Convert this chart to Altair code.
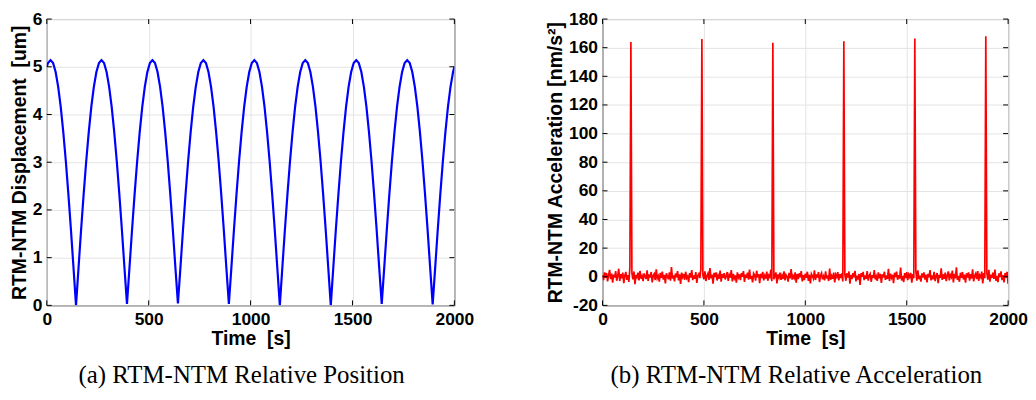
import altair as alt
import pandas as pd

# ---------------- data ----------------
# (a) RTM-NTM relative displacement [um] vs time [s]
disp_t = [
    0, 6, 18.5, 31, 43.5, 56, 68.5, 81, 93.5, 106, 118.5, 131, 143.5,
    156, 168.5, 181, 193.5, 206, 218.5, 231, 243.5, 256, 268.5, 281, 293.5, 306, 318.5, 331, 343.5, 356, 368.5, 381, 393.5,
    406, 418.5, 431, 443.5, 456, 468.5, 481, 493.5, 506, 518.5, 531, 543.5, 556, 568.5, 581, 593.5, 606, 618.5, 631, 643.5,
    656, 668.5, 681, 693.5, 706, 718.5, 731, 743.5, 756, 768.5, 781, 793.5, 806, 818.5, 831, 843.5, 856, 868.5, 881, 893.5,
    906, 918.5, 931, 943.5, 956, 968.5, 981, 993.5, 1006, 1018.5, 1031, 1043.5, 1056, 1068.5, 1081, 1093.5, 1106, 1118.5, 1131, 1143.5,
    1156, 1168.5, 1181, 1193.5, 1206, 1218.5, 1231, 1243.5, 1256, 1268.5, 1281, 1293.5, 1306, 1318.5, 1331, 1343.5, 1356, 1368.5, 1381, 1393.5,
    1406, 1418.5, 1431, 1443.5, 1456, 1468.5, 1481, 1493.5, 1506, 1518.5, 1531, 1543.5, 1556, 1568.5, 1581, 1593.5, 1606, 1618.5, 1631, 1643.5,
    1656, 1668.5, 1681, 1693.5, 1706, 1718.5, 1731, 1743.5, 1756, 1768.5, 1781, 1793.5, 1806, 1818.5, 1831, 1843.5, 1856, 1868.5, 1881, 1893.5,
    1906, 1918.5, 1931, 1943.5, 1956, 1968.5, 1981, 1993.5, 2000,
]
disp_v = [
    5.00, 5.08, 5.14, 5.08, 4.89, 4.58, 4.16, 3.63, 3.02, 2.33, 1.59, 0.80, 0.00,
    0.80, 1.59, 2.33, 3.02, 3.63, 4.16, 4.58, 4.89, 5.08, 5.14, 5.08, 4.89, 4.58, 4.16, 3.63, 3.02, 2.33, 1.59, 0.80, 0.03,
    0.80, 1.59, 2.33, 3.02, 3.63, 4.16, 4.58, 4.89, 5.08, 5.14, 5.08, 4.89, 4.58, 4.16, 3.63, 3.02, 2.33, 1.59, 0.80, 0.04,
    0.80, 1.59, 2.33, 3.02, 3.63, 4.16, 4.58, 4.89, 5.08, 5.14, 5.08, 4.89, 4.58, 4.16, 3.63, 3.02, 2.33, 1.59, 0.80, 0.03,
    0.80, 1.59, 2.33, 3.02, 3.63, 4.16, 4.58, 4.89, 5.08, 5.14, 5.08, 4.89, 4.58, 4.16, 3.63, 3.02, 2.33, 1.59, 0.80, 0.00,
    0.80, 1.59, 2.33, 3.02, 3.63, 4.16, 4.58, 4.89, 5.08, 5.14, 5.08, 4.89, 4.58, 4.16, 3.63, 3.02, 2.33, 1.59, 0.80, 0.00,
    0.80, 1.59, 2.33, 3.02, 3.63, 4.16, 4.58, 4.89, 5.08, 5.14, 5.08, 4.89, 4.58, 4.16, 3.63, 3.02, 2.33, 1.59, 0.80, 0.03,
    0.80, 1.59, 2.33, 3.02, 3.63, 4.16, 4.58, 4.89, 5.08, 5.14, 5.08, 4.89, 4.58, 4.16, 3.63, 3.02, 2.33, 1.59, 0.80, 0.02,
    0.80, 1.59, 2.33, 3.02, 3.63, 4.16, 4.58, 4.89, 5.00,
]

# (b) RTM-NTM relative acceleration [nm/s^2]: noise sampled every 5 s (0..2000 s)
acc_noise = [
    1.2, -2.4, 3.1, -0.8, 2.6, -3.3, 0.9, 4.8, -1.7, 2.2, -4.1, 1.5, -0.6, 3.9, -2.8, 0.4, 5.6, -3.0, 1.8, -1.1,
    2.9, -4.5, 0.7, 3.4, -2.2, 1.1, -3.6, 6.3, -0.9, 2.5, -1.9, 3.7, -5.2, 1.4, -0.3, 2.8, -2.6, 4.1, -1.4, 0.6,
    -3.1, 2.3, 0.2, -1.6, 4.4, -2.9, 1.7, -0.5, 3.3, -4.0, 0.8, 2.1, -2.3, 5.1, -1.2, 0.5, -3.4, 2.7, -0.7, 3.6,
    -2.0, 1.3, -4.6, 2.4, 0.1, -1.8, 3.0, -2.7, 6.8, -1.3, 0.9, -3.2, 2.2, -0.4, 4.0, -2.5, 1.6, -5.0, 2.9, -0.2,
    1.9, -2.1, 3.5, -1.0, 0.3, -3.8, 2.6, -0.6, 4.6, -2.4, 1.0, -1.5, 3.2, -4.3, 0.7, 2.0, -0.9, 5.4, -2.8, 1.2,
    -1.7, 3.8, -3.0, 0.6, 2.3, -2.2, 6.1, -1.1, 1.5, -4.8, 2.7, -0.3, 3.1, -2.6, 0.8, -1.4, 4.3, -3.5, 1.9, -0.8,
    2.5, -1.9, 0.4, 3.3, -2.9, 1.2, -0.7, 4.7, -3.3, 2.0, -1.2, 0.9, -4.2, 3.0, -0.5, 1.7, -2.3, 2.6, -0.1, 3.9,
    -3.6, 1.4, -0.8, 2.9, -2.0, 5.0, -1.6, 0.6, -3.9, 2.3, 1.1, -2.7, 4.2, -0.4, 1.8, -4.4, 2.1, -1.0, 3.4, -2.5,
    0.8, -1.3, 3.6, -2.8, 1.0, -0.2, 4.9, -3.1, 2.4, -1.8, 0.5, 3.0, -4.7, 1.6, -0.6, 2.8, -2.2, 0.9, -1.5, 3.7,
    -2.6, 1.3, 0.2, -3.4, 2.7, -1.1, 5.3, -2.0, 0.7, -0.9, 3.1, -4.1, 1.9, -1.6, 2.4, -0.3, 4.0, -3.2, 1.1, -2.4,
    2.2, -0.7, 3.5, -2.9, 1.4, -4.6, 2.0, 0.4, -1.3, 4.5, -2.3, 1.7, -0.5, 3.3, -3.7, 0.9, 2.6, -1.8, 0.3, -2.5,
    3.8, -1.2, 1.0, -3.0, 5.7, -2.1, 0.6, -1.4, 2.9, -4.0, 1.5, -0.2, 3.2, -2.6, 1.8, -0.9, 2.3, -3.3, 0.5, 1.6,
    -2.8, 2.4, -0.6, 3.7, -4.9, 1.3, -1.7, 2.6, -0.4, 4.1, -3.2, 0.8, -2.0, 1.9, -5.8, 2.5, -0.1, 3.4, -2.4, 1.0,
    -1.5, 3.9, -2.7, 0.7, 2.1, -3.6, 1.2, -0.8, 4.6, -1.9, 0.3, -2.9, 3.1, -1.1, 2.0, -4.3, 1.7, -0.5, 3.5, -2.2,
    0.9, -1.6, 5.5, -3.0, 2.2, -0.7, 1.4, -4.5, 2.8, -0.3, 3.6, -2.1, 1.1, -1.3, 6.4, -2.6, 0.6, -3.8, 2.5, -0.9,
    3.2, -2.4, 1.6, -0.2, 2.7, -4.2, 1.8, -1.0, 0.4, 3.9, -2.8, 4.4, -1.7, 0.8, -3.4, 2.3, -0.6, 3.0, -2.0, 1.5,
    -3.9, 2.1, -0.4, 4.7, -2.5, 1.0, -1.8, 3.4, -3.1, 0.5, 2.6, -4.4, 1.3, -0.9, 5.9, -2.2, 1.7, -1.4, 2.9, -3.0,
    0.8, 3.7, -2.6, 1.2, -0.3, 4.3, -4.0, 2.0, -1.1, 6.6, -2.3, 0.6, -3.5, 2.8, -0.7, 3.3, -1.9, 1.5, -4.1, 2.4,
    -0.5, 3.1, -2.7, 1.8, -1.2, 5.2, -3.3, 0.7, 2.2, -1.6, 4.0, -2.9, 1.1, -0.4, 3.6, -4.6, 2.5, -1.0, 0.3, 2.7,
    -2.1, 4.8, -3.4, 1.4, -0.8, 2.9, -1.5, 5.0, -2.8, 0.6, -3.7, 2.3, -0.2, 3.8, -2.4, 1.2, -4.0, 2.6, -0.6, 3.4,
    -5.0,
]
acc_sample_step = 5
spike_t = [140, 490, 840, 1190, 1540, 1890]
spike_v = [164.0, 166.0, 163.5, 164.5, 166.5, 168.0]

x_ticks = [0, 500, 1000, 1500, 2000]
disp_ticks = [0, 1, 2, 3, 4, 5, 6]
acc_ticks = [-20, 0, 20, 40, 60, 80, 100, 120, 140, 160, 180]

caption_a = "(a) RTM-NTM Relative Position"
caption_b = "(b) RTM-NTM Relative Acceleration"
ytitle_a = "RTM-NTM Displacement\u00a0 [um]"
ytitle_b = "RTM-NTM Acceleration [nm/s\u00b2]"
xtitle = "Time\u00a0 [s]"

# ---------------- tables ----------------
df_a = pd.DataFrame({"t": disp_t, "v": disp_v})
acc_t = [i * acc_sample_step for i in range(len(acc_noise))]
acc_v = list(acc_noise)
for st, sv in zip(spike_t, spike_v):
    acc_v[acc_t.index(st)] = sv
df_b = pd.DataFrame({"t": acc_t, "v": acc_v})

FONT = "Liberation Sans"
H = 288
TICK = 5
LABEL_EXPR = "replace(datum.label, '\u2212', '-')"


def panel(df, color, sw, ydom, yticks, ytitle, caption, width, cap_dx):
    xs = alt.Scale(domain=[0, 2000], nice=False, zero=False)
    ys = alt.Scale(domain=ydom, nice=False, zero=False)
    common = dict(
        grid=True, ticks=False, tickSize=0, domain=False, labelFlush=False,
        labelFont=FONT, labelFontWeight="bold", labelFontSize=17.5,
        labelColor="black", labelPadding=5, titleFont=FONT,
        titleFontWeight="bold", titleFontSize=19.5, titleColor="black",
        gridColor="#e4e4e4", format="d", labelExpr=LABEL_EXPR,
    )
    xaxis = alt.Axis(values=x_ticks, title=xtitle, titlePadding=2, **common)
    yaxis = alt.Axis(values=yticks, title=ytitle, titlePadding=3, **common)
    line = alt.Chart(df).mark_line(color=color, strokeWidth=sw, clip=True).encode(
        x=alt.X("t:Q", scale=xs, axis=xaxis),
        y=alt.Y("v:Q", scale=ys, axis=yaxis),
    )
    ydf = pd.DataFrame({"v": yticks})
    xdf = pd.DataFrame({"t": x_ticks})
    ytk_l = alt.Chart(ydf).mark_rule(color="black", strokeWidth=1).encode(
        y=alt.Y("v:Q", scale=ys, axis=yaxis), x=alt.value(0), x2=alt.value(TICK))
    ytk_r = alt.Chart(ydf).mark_rule(color="black", strokeWidth=1).encode(
        y=alt.Y("v:Q", scale=ys, axis=yaxis), x=alt.value(width - TICK), x2=alt.value(width))
    xtk_b = alt.Chart(xdf).mark_rule(color="black", strokeWidth=1).encode(
        x=alt.X("t:Q", scale=xs, axis=xaxis), y=alt.value(H - TICK), y2=alt.value(H))
    xtk_t = alt.Chart(xdf).mark_rule(color="black", strokeWidth=1).encode(
        x=alt.X("t:Q", scale=xs, axis=xaxis), y=alt.value(0), y2=alt.value(TICK))
    return alt.layer(line, ytk_l, ytk_r, xtk_b, xtk_t).properties(
        width=width, height=H,
        title=alt.TitleParams(
            caption, orient="bottom", anchor="middle", font="Liberation Serif",
            fontSize=25, fontWeight="normal", color="black", offset=15, dx=cap_dx,
        ),
    )


left = panel(df_a, "#0000ff", 2.2, [0, 6], disp_ticks, ytitle_a, caption_a, 410, -9)
right = panel(df_b, "#ff0000", 1.7, [-20, 180], acc_ticks, ytitle_b, caption_b, 408, -9)

chart = alt.hconcat(left, right, spacing=71).properties(
    padding={"left": 0, "top": 0, "right": 0, "bottom": 0},
    background="white",
).configure_view(stroke="black", strokeWidth=1)

chart.save("out.html", embed_options={"renderer": "svg", "actions": False})
